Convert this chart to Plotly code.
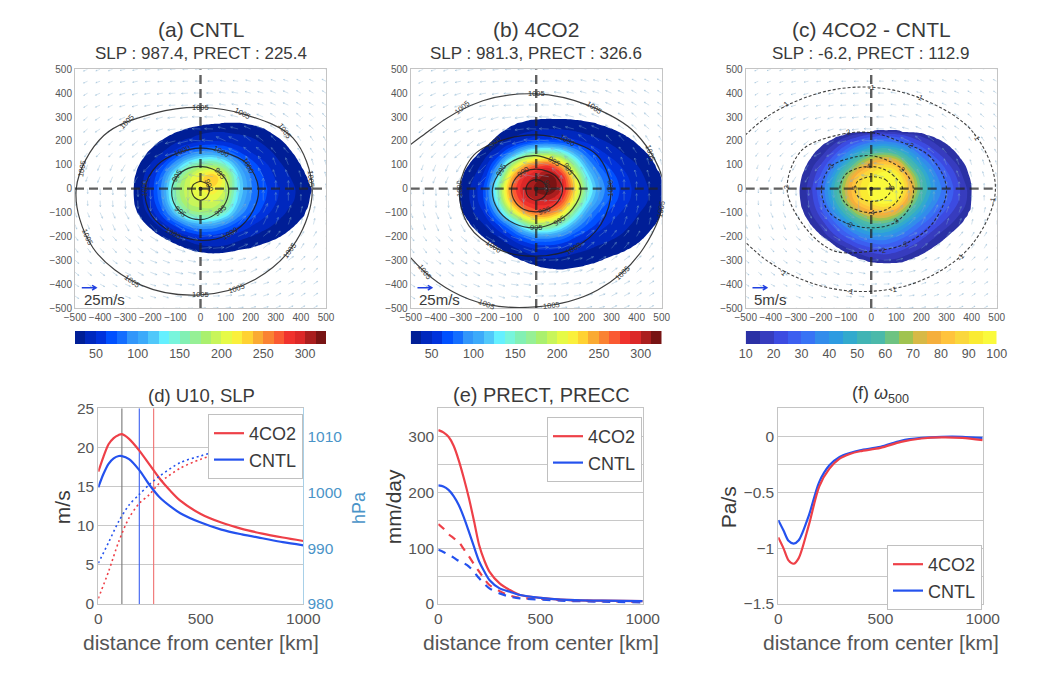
import numpy as np
import plotly.graph_objects as go

W, H = 1041, 674

# ---------- map panels: gridded precipitation (mm/day) ----------
x_grid = [-350,-300,-250,-200,-150,-100,-50,0,50,100,150,200,250,300,350,400,450,500]
y_grid = [350,300,250,200,150,100,50,0,-50,-100,-150,-200,-250,-300,-350]

precip_a = [
 [5,5,5,5,5,5,5,5,5,5,5,5,5,5,5,5,5,5],
 [5,5,5,5,5,5,8,12,14,14,12,8,5,5,5,5,5,5],
 [5,5,5,5,8,18,28,33,35,35,33,30,27,14,6,5,5,5],
 [5,5,6,14,28,33,38,44,46,45,40,35,31,28,16,8,5,5],
 [5,6,12,24,34,55,80,95,100,85,65,50,40,32,26,14,6,5],
 [5,10,26,38,62,100,145,170,175,150,100,72,55,43,33,25,12,6],
 [5,14,28,48,85,150,195,225,250,205,125,85,62,48,39,29,17,8],
 [5,17,30,52,95,165,200,212,225,200,130,90,68,53,43,34,26,10],
 [5,15,29,50,90,160,195,200,205,185,120,85,65,51,42,33,25,9],
 [5,11,28,42,70,125,172,180,180,150,100,75,57,45,35,29,18,7],
 [5,7,14,30,45,65,95,110,105,85,65,52,42,34,28,17,7,5],
 [5,5,7,12,27,35,45,55,55,50,43,38,33,28,14,6,5,5],
 [5,5,5,5,7,14,27,32,35,34,29,22,11,6,5,5,5,5],
 [5,5,5,5,5,5,6,9,10,9,7,5,5,5,5,5,5,5],
 [5,5,5,5,5,5,5,5,5,5,5,5,5,5,5,5,5,5],
]

precip_b = [
 [5,5,5,5,5,5,5,5,5,5,5,5,5,5,5,5,5,5],
 [5,5,5,5,5,5,10,22,24,24,22,12,8,5,5,5,5,5],
 [5,5,5,6,10,22,30,35,36,36,35,32,29,26,13,8,5,5],
 [5,5,8,20,30,38,48,60,62,58,50,44,38,34,29,22,9,5],
 [5,9,20,32,48,85,135,165,170,150,110,75,54,44,36,30,22,10],
 [7,16,28,44,90,180,240,270,280,240,170,105,72,57,46,38,30,18],
 [9,22,36,56,130,240,290,305,330,300,220,135,92,68,54,43,34,28],
 [11,28,42,68,165,265,300,320,330,305,240,155,102,74,57,46,37,30],
 [11,28,42,66,150,250,290,300,300,285,215,135,94,70,55,45,37,30],
 [9,26,37,52,105,190,250,270,265,235,160,100,72,57,47,39,33,28],
 [5,14,28,39,62,95,150,190,185,150,105,75,58,47,40,34,29,17],
 [5,6,14,27,38,55,78,95,95,85,65,52,43,38,33,29,24,10],
 [5,5,6,12,22,32,42,50,52,48,42,38,34,30,27,15,7,5],
 [5,5,5,5,7,14,27,32,35,34,32,29,27,14,7,5,5,5],
 [5,5,5,5,5,5,10,20,24,24,20,12,6,5,5,5,5,5],
]

precip_c = [
 [2,2,2,2,2,2,2,2,2,2,2,2,2,2,2,2,2,2],
 [2,2,2,2,2,2,3,4,4,4,4,3,2,2,2,2,2,2],
 [2,2,2,2,3,5,9,11,13,13,11,8,5,2,2,2,2,2],
 [2,2,2,6,12,20,26,32,34,31,25,19,14,8,3,2,2,2],
 [2,2,5,12,22,34,48,58,62,57,44,31,22,15,7,3,2,2],
 [2,4,11,20,33,50,68,82,88,84,60,44,32,22,14,6,2,2],
 [3,7,14,26,44,68,87,94,102,100,78,55,38,28,18,8,3,2],
 [4,9,16,30,50,74,90,98,106,106,84,58,42,31,21,12,4,2],
 [4,8,15,28,47,70,88,95,102,97,74,52,38,29,20,12,4,2],
 [2,7,13,23,37,54,70,78,82,74,56,42,31,23,16,11,3,2],
 [2,5,9,16,27,38,50,58,58,51,40,30,23,17,11,5,2,2],
 [2,2,5,11,18,26,34,39,40,35,28,22,16,10,5,2,2,2],
 [2,2,2,4,9,14,20,24,26,23,19,15,9,4,2,2,2,2],
 [2,2,2,2,3,5,9,13,15,14,11,6,3,2,2,2,2,2],
 [2,2,2,2,2,2,3,4,5,5,3,2,2,2,2,2,2,2],
]

# outer edge of the coloured area: radius (km) at each bearing
rim_bearing = [0,15,30,45,60,75,90,105,120,135,150,165,180,195,210,225,240,255,270,285,300,315,330,345,360]
rim_a = [441,410,385,358,318,282,263,257,256,258,262,266,268,272,268,258,252,256,268,281,298,335,385,430,441]
rim_b = [510,478,428,375,332,303,291,285,274,266,276,295,306,310,302,292,290,302,322,350,375,408,465,505,510]
rim_c = [400,387,360,315,272,248,237,240,252,266,273,280,285,288,284,275,277,290,305,323,335,348,370,400,400]

jet_bands = ["#001e96","#0028be","#0032dc","#0050ff","#146eff","#3296fa","#3caafa","#50c8fa",
             "#64f0ff","#78f5dc","#82f0b4","#96f096","#aaf06e","#c8f55a","#e6fa46","#faf03c",
             "#ffd232","#faaa32","#fa8232","#fa5a32","#f0322d","#dc2828","#aa1e1e","#781414"]
par_bands = ["#2b31a5","#373cbe","#3c4be1","#3c5ff0","#3773f5","#328ceb","#2d9be1","#32aacd",
             "#41b4b4","#4bb9aa","#6ec382","#a0c350","#d7b946","#f5af3c","#ffc33c","#fad73c",
             "#faeb32","#fafa3c"]

precip_start = [25, 25, 10]
precip_step = [12.5, 12.5, 5]
cbar_ticks = [[50,100,150,200,250,300], [50,100,150,200,250,300], [10,20,30,40,50,60,70,80,90,100]]

# ---------- SLP contours: radius (km) from the storm centre at each bearing ----------
bearing = [0,30,60,90,120,150,180,210,240,270,300,330,360]
slp_a = {
 "1005": [445,425,358,340,365,445,495,495,468,445,438,440,445],
 "1000": [231,212,178,170,174,198,221,225,215,217,222,228,231],
 "995":  [112,105,95,93,98,106,114,122,128,130,122,116,112],
 "990":  [36,34,30,30,30,33,35,38,44,49,44,38,36],
}
slp_b = {
 "1005": [510,460,405,397,425,490,650,578,535,495,490,495,510],
 "1000": [298,280,235,225,240,285,306,310,295,283,290,298,298],
 "995":  [178,155,135,138,145,158,174,176,170,164,160,168,178],
 "990":  [105,95,85,82,85,92,98,100,100,97,98,102,105],
 "985":  [45,40,38,38,38,39,41,44,47,49,47,46,45],
}
slp_c = {
 "-1": [495,470,428,425,455,530,640,530,460,430,435,465,495],
 "-2": [300,270,228,235,260,320,335,310,300,262,268,285,300],
 "-3": [168,150,135,138,150,185,198,195,172,164,170,172,168],
 "-4": [125,105,95,93,100,118,125,120,105,100,105,115,125],
 "-5": [80,70,55,50,52,62,65,62,55,53,58,70,80],
}
label_bearing_a = {"1005":[5,36,62,90,136,170,204,235,270,289,324], "1000":[27,62,114,180,240,302], "995":[40,150,230,311], "990":[20]}
label_bearing_b = {"1005":[18,56,90,131,218,248,277,314,350], "1000":[58,131,180,235,301,0], "995":[32,58,150,270,305], "990":[125,290], "985":[10]}
label_bearing_c = {"-1":[27,63,90,134,225,259,282,321,354], "-2":[50,112,180,280,300], "-3":[35,150,240,305], "-4":[100,270], "-5":[0,180]}

# ---------- wind field, shared direction (deg) and speed (m/s) on a 100 km mesh ----------
wind_dir = [
 [205,200,192,186,181,178,172,166,160,155,152],
 [212,205,197,190,183,178,170,163,155,148,145],
 [222,215,205,197,187,178,165,155,145,138,132],
 [235,228,220,208,195,175,155,140,130,122,118],
 [252,248,240,228,210,170,135,118,110,105,102],
 [272,272,272,272,270,0,90,90,90,90,90],
 [290,292,298,310,325,10,50,65,72,78,82],
 [305,310,318,328,340,5,25,40,52,60,65],
 [318,322,330,338,348,3,15,28,38,45,52],
 [325,330,336,342,352,2,10,20,30,35,42],
 [330,335,340,345,355,1,8,15,25,30,35],
]
wind_speed = [
 [7,7,8,8,8,8,8,8,8,7,7],
 [7,8,9,9,10,10,10,9,9,8,7],
 [8,9,10,11,12,13,12,11,10,9,8],
 [8,9,11,14,16,17,16,14,11,9,8],
 [8,10,12,16,18,18,18,16,12,10,8],
 [8,10,13,17,19,15,19,17,13,10,8],
 [8,10,12,16,18,18,18,16,12,10,8],
 [8,9,11,14,16,17,16,14,11,9,8],
 [8,9,10,11,12,13,12,11,10,9,8],
 [7,8,9,9,10,10,10,9,9,8,7],
 [7,7,8,8,8,8,8,8,8,7,7],
]
wind_gain = [1.0, 1.12, 0.85]
key_labels = ["25m/s", "25m/s", "5m/s"]

# ---------- line panels ----------
u_r_4co2 = [0,25,50,75,100,115,150,200,250,300,350,400,500,600,700,800,900,1000]
u_4co2   = [16.9,18.8,20.4,21.2,21.6,21.7,21.1,19.6,17.8,16.0,14.5,13.2,11.5,10.4,9.6,9.0,8.5,8.05]
u_r_cntl = [0,25,50,75,100,115,150,200,250,300,350,400,500,600,700,800,900,1000]
u_cntl   = [14.9,16.6,17.9,18.6,18.9,18.9,18.5,17.1,15.2,13.6,12.5,11.6,10.4,9.5,8.9,8.4,7.9,7.5]
slp_r = [0,50,100,150,200,250,300,400,500,600,700,800,900,1000]
slp_4co2 = [981,985.8,991.2,995.4,998,999.6,1001.7,1004.3,1005.9,1007.0,1007.9,1008.7,1009.4,1009.9]
slp_cntl = [987.3,991.0,994.8,997.7,999.6,1001.4,1002.9,1005.3,1006.5,1007.5,1008.3,1009.0,1009.7,1010.3]
rmw_lines = [115, 200, 270]

e_r = [0,25,50,75,100,125,150,175,200,225,250,300,350,400,500,600,800,1000]
prect_4co2 = [311,307,299,283,257,225,189,148,105,78,58,37,25,16,11,8,6,5]
prect_cntl = [212,210,204,193,177,155,129,102,76,58,43,28,22,16,11,8,6,5]
precc_4co2 = [143,135,125,118,111,98,85,71,58,45,34,23,15,11,9,7,5,4]
precc_cntl = [97,93,88,83,77,73,67,57,46,36,28,19,13,10,8,6,4,3]

f_r = [0,25,50,75,100,150,200,250,300,350,400,500,600,700,800,900,1000]
omega_4co2 = [-0.905,-1.0,-1.11,-1.14,-1.09,-0.79,-0.45,-0.29,-0.2,-0.158,-0.134,-0.104,-0.05,-0.02,-0.01,-0.015,-0.035]
omega_cntl = [-0.75,-0.84,-0.935,-0.96,-0.93,-0.705,-0.41,-0.26,-0.185,-0.15,-0.125,-0.095,-0.04,-0.015,-0.005,-0.005,-0.015]

map_titles = ["(a) CNTL", "(b) 4CO2", "(c) 4CO2 - CNTL"]
map_subtitles = ["SLP : 987.4, PRECT : 225.4", "SLP : 981.3, PRECT : 326.6", "SLP : -6.2, PRECT : 112.9"]
map_ticks = [-500,-400,-300,-200,-100,0,100,200,300,400,500]

# ---------- pixel geometry ----------
map_left = [75, 410.7, 745.7]
map_width = 251
map_top, map_bottom = 69.3, 308
cb_top, cb_bottom = 331, 344
low_left = [98.3, 438.3, 778.3]
low_width = [205, 204.4, 204.4]
low_top, low_bottom = 408.3, 604

RED, BLUE = "#ee4048", "#2452ee"
TXT = "#3a3a3a"
TICK = "#555555"
FONT = "Liberation Sans, Arial, sans-serif"

def xdom(a, b): return [a / W, b / W]
def ydom(top, bottom): return [1 - bottom / H, 1 - top / H]

def soften(vals, axis):
    """Light smoothing of the gridded read-off so band edges are not polygonal."""
    k = np.array([1, 4, 6, 4, 1]) / 16.0
    pad = [(0, 0), (0, 0)]; pad[axis] = (2, 2)
    padded = np.pad(vals, pad, mode="edge")
    return np.apply_along_axis(lambda v: np.convolve(v, k, mode="valid"), axis, padded)

def refine(table, xs, ys, rim, start, f=4):
    z = np.array(table, dtype=float)
    ix = np.linspace(0, len(xs) - 1, (len(xs) - 1) * f + 1)
    iy = np.linspace(0, len(ys) - 1, (len(ys) - 1) * f + 1)
    z = np.array([np.interp(ix, np.arange(len(xs)), row) for row in z])
    z = np.array([np.interp(iy, np.arange(len(ys)), col) for col in z.T]).T
    z = soften(soften(z, 0), 1)
    xf = np.interp(ix, np.arange(len(xs)), xs); yf = np.interp(iy, np.arange(len(ys)), ys)
    X, Y = np.meshgrid(xf, yf)
    rho = np.hypot(X, Y) / np.interp(np.degrees(np.arctan2(Y, X)) % 360, rim_bearing, rim)
    inner = np.clip(z, start * (1 + (1 - rho) * 3), start + (1 - rho) * 400)
    return xf, yf, np.where(rho <= 1, inner, start - (rho - 1) * start * 6)

fig = go.Figure()
layout = dict(width=W, height=H, autosize=False, margin=dict(l=0, r=0, t=0, b=0, pad=0),
              paper_bgcolor="white", plot_bgcolor="white", font=dict(family=FONT, color=TXT))
ann = []

def text(x, y, s, size, color=TXT, **kw):
    ann.append(dict(x=x / W, y=1 - y / H, xref="paper", yref="paper", text=s, showarrow=False,
                    font=dict(size=size, color=color, family=FONT), xanchor="center", yanchor="middle", **kw))

precips = [precip_a, precip_b, precip_c]
rims = [rim_a, rim_b, rim_c]
slps = [slp_a, slp_b, slp_c]
lab_b = [label_bearing_a, label_bearing_b, label_bearing_c]
band_sets = [jet_bands, jet_bands, par_bands]

for p in range(3):
    n = 2 * p + 1
    xm, ym = f"x{n}" if n > 1 else "x", f"y{n}" if n > 1 else "y"
    xc, yc = f"x{n+1}", f"y{n+1}"
    ax_common = dict(showgrid=False, zeroline=False, showline=True, mirror=True, linecolor="#c4c4c4", linewidth=1,
                     ticks="", tickfont=dict(size=10, color=TICK, family=FONT), tickvals=map_ticks, range=[-500, 500],
                     tickangle=0, automargin=False)
    layout[f"xaxis{n}"] = dict(domain=xdom(map_left[p], map_left[p] + map_width), anchor=ym, **ax_common)
    layout[f"yaxis{n}"] = dict(domain=ydom(map_top, map_bottom), anchor=xm, **ax_common)

    # wind arrows
    ax_pts, ay_pts = [], []
    gain = wind_gain[p]
    for yv in np.arange(500, -501, -50):
        for xv in np.arange(-500, 501, 50):
            j = int(round((xv + 500) / 100 - 0.01)); i = int(round((500 - yv) / 100 - 0.01))
            ang = np.radians(wind_dir[i][j]); L = wind_speed[i][j] * 2.6 * gain
            ex, ey = xv + L * np.cos(ang), yv + L * np.sin(ang)
            ax_pts += [xv, ex, None]; ay_pts += [yv, ey, None]
            for d in (2.7, -2.7):
                ax_pts += [ex, ex + 0.3 * L * np.cos(ang + d), None]
                ay_pts += [ey, ey + 0.3 * L * np.sin(ang + d), None]
    fig.add_trace(go.Scatter(x=ax_pts, y=ay_pts, mode="lines", xaxis=xm, yaxis=ym, showlegend=False, hoverinfo="skip",
                             line=dict(color="rgba(130,175,205,0.45)", width=0.8)))

    # filled precipitation
    bands = band_sets[p]
    start, step = precip_start[p], precip_step[p]
    end = start + step * len(bands)
    cols = ["rgba(255,255,255,0)"] + bands + [bands[-1]]
    scale = [[i / (len(cols) - 1), c] for i, c in enumerate(cols)]
    xf, yf, zf = refine(precips[p], x_grid, y_grid, rims[p], start)
    fig.add_trace(go.Contour(x=xf, y=yf, z=zf, xaxis=xm, yaxis=ym, showscale=False, colorscale=scale,
                             autocontour=False, contours=dict(start=start, end=end, size=step, coloring="fill", showlines=False),
                             line=dict(width=0, smoothing=1.0), hoverinfo="skip"))

    # colour bar
    mids = [start + step * (i + 0.5) for i in range(len(bands))]
    cb_scale = [[i / (len(bands) - 1), c] for i, c in enumerate(bands)]
    fig.add_trace(go.Heatmap(x=mids, y=[0], z=[mids], xaxis=xc, yaxis=yc, showscale=False, colorscale=cb_scale,
                             zmin=mids[0], zmax=mids[-1], hoverinfo="skip"))
    layout[f"xaxis{n+1}"] = dict(domain=xdom(map_left[p], map_left[p] + map_width), anchor=yc, range=[start, end],
                                 tickvals=cbar_ticks[p], showgrid=False, zeroline=False, ticks="", showline=False,
                                 automargin=False, tickangle=0, tickfont=dict(size=12.5, color=TICK, family=FONT))
    layout[f"yaxis{n+1}"] = dict(domain=ydom(cb_top, cb_bottom), anchor=xc, visible=False, range=[-0.5, 0.5], automargin=False)

    # crosshair
    for hx, hy in (([-500, 500], [0, 0]), ([0, 0], [-500, 500])):
        fig.add_trace(go.Scatter(x=hx, y=hy, mode="lines", xaxis=xm, yaxis=ym, showlegend=False, hoverinfo="skip",
                                 line=dict(color="rgba(35,35,35,0.72)", width=2.4, dash="9px,5px")))

    # SLP contours
    for lev, rad in slps[p].items():
        th = np.radians(bearing)
        xs = np.array(rad) * np.cos(th); ys = np.array(rad) * np.sin(th)
        fig.add_trace(go.Scatter(x=xs, y=ys, mode="lines", xaxis=xm, yaxis=ym, showlegend=False, hoverinfo="skip",
                                 line=dict(color="rgba(30,30,30,0.85)", width=1.2 if p < 2 else 1.1,
                                           shape="spline", smoothing=1.0, dash="solid" if p < 2 else "3px,2px")))
        for b in lab_b[p][lev]:
            r = np.interp(b, bearing, rad)
            rot = -(b + 90)
            while rot < -90: rot += 180
            while rot > 90: rot -= 180
            ann.append(dict(x=r * np.cos(np.radians(b)), y=r * np.sin(np.radians(b)), xref=xm, yref=ym, text=lev,
                            showarrow=False, textangle=rot, font=dict(size=7.5, color="#333333", family=FONT)))
    fig.add_trace(go.Scatter(x=[0], y=[0], mode="markers", xaxis=xm, yaxis=ym, showlegend=False, hoverinfo="skip",
                             marker=dict(color="#222222", size=4)))

    # quiver key
    fig.add_trace(go.Scatter(x=[-473, -416, -432, -416, -432], y=[-415, -415, -405, -415, -425], mode="lines",
                             xaxis=xm, yaxis=ym, showlegend=False, hoverinfo="skip",
                             line=dict(color="#2040e0", width=1.5)))
    ann.append(dict(x=-473, y=-465, xref=xm, yref=ym, text=key_labels[p], showarrow=False, xanchor="left",
                    font=dict(size=15, color=TXT, family=FONT)))

    cx = map_left[p] + map_width / 2
    text(cx, 30, map_titles[p], 21)
    text(cx, 53, map_subtitles[p], 17)

# ---------- lower panels ----------
low_x = dict(range=[0, 1000], tickvals=[0, 500, 1000], showgrid=False, zeroline=False, showline=True, mirror=True,
             linecolor="#c4c4c4", ticks="", automargin=False, tickfont=dict(size=15.5, color=TICK, family=FONT))
grid = dict(showgrid=True, gridcolor="#c8c8c8", gridwidth=1.4, zeroline=False, showline=True, mirror=True, automargin=False,
            linecolor="#c4c4c4", ticks="", tickfont=dict(size=15.5, color=TICK, family=FONT))
ytitle_x = [62, 393, 728]

def low_axes(i, n, ytitle, yrange, ytick, minor=None):
    xm, ym = f"x{n}", f"y{n}"
    layout[f"xaxis{n}"] = dict(domain=xdom(low_left[i], low_left[i] + low_width[i]), anchor=ym, **low_x)
    ya = dict(domain=ydom(low_top, low_bottom), anchor=xm, range=yrange, tickvals=ytick, **grid)
    if minor:
        ya["minor"] = dict(tickvals=minor, showgrid=True, gridcolor="#c8c8c8", gridwidth=1.4, ticks="")
    layout[f"yaxis{n}"] = ya
    text(ytitle_x[i], (low_top + low_bottom) / 2 + 1, ytitle, 21, textangle=-90)
    text(low_left[i] + low_width[i] / 2, 642, "distance from center [km]", 21, color=TICK)
    return xm, ym

def solid(x, y, xa, ya, color, name, legend, show=True, dash="solid", width=2.2, rank=1000):
    fig.add_trace(go.Scatter(x=x, y=y, xaxis=xa, yaxis=ya, mode="lines", name=name, legend=legend, showlegend=show, legendrank=rank,
                             line=dict(color=color, width=width, dash=dash, shape="spline", smoothing=0.8), hoverinfo="skip"))

# (d)
xa, ya = low_axes(0, 7, "m/s", [0, 25], [0, 5, 10, 15, 20, 25])
layout["yaxis10"] = dict(domain=ydom(low_top, low_bottom), anchor=xa, overlaying="y7", side="right", range=[980, 1015],
                         tickvals=[980, 990, 1000, 1010], showgrid=False, zeroline=False, showline=True, linecolor="#a8d0e8",
                         ticks="", automargin=False, tickfont=dict(size=15.5, color="#4a94c8", family=FONT))
text(359, 508, "hPa", 18, color="#4a94c8", textangle=-90)
for rx, col in zip(rmw_lines, ["#777777", "#3a5ff0", "#f07070"]):
    fig.add_trace(go.Scatter(x=[rx, rx], y=[0, 25], xaxis=xa, yaxis=ya, mode="lines", showlegend=False, hoverinfo="skip",
                             line=dict(color=col, width=1.1)))
solid(slp_r, slp_4co2, xa, "y10", RED, "4CO2", "legend", False, "2px,3px", 1.6)
solid(slp_r, slp_cntl, xa, "y10", BLUE, "CNTL", "legend", False, "2px,3px", 1.6)
solid(u_r_4co2, u_4co2, xa, ya, RED, "4CO2", "legend")
solid(u_r_cntl, u_cntl, xa, ya, BLUE, "CNTL", "legend")
text(201, 395, "(d) U10, SLP", 18.5)

# (e)
xa, ya = low_axes(1, 8, "mm/day", [0, 350], [0, 100, 200, 300], [50, 150, 250])
solid(e_r, precc_4co2, xa, ya, RED, "4CO2", "legend2", False, "8px,7px")
solid(e_r, precc_cntl, xa, ya, BLUE, "CNTL", "legend2", False, "8px,7px")
solid(e_r, prect_4co2, xa, ya, RED, "4CO2", "legend2")
solid(e_r, prect_cntl, xa, ya, BLUE, "CNTL", "legend2")
text(541, 395, "(e) PRECT, PRECC", 20)

# (f)
xa, ya = low_axes(2, 9, "Pa/s", [-1.5, 0.25], [-1.5, -1, -0.5, 0], [-1.25, -0.75, -0.25])
solid(f_r, omega_cntl, xa, ya, BLUE, "CNTL", "legend3", True, rank=2)
solid(f_r, omega_4co2, xa, ya, RED, "4CO2", "legend3", True, rank=1)
text(880, 394, "(f) <i>ω</i><sub>500</sub>", 18)

def legend_at(left, top):
    return dict(x=left / W, y=1 - top / H, xanchor="left", yanchor="top", bgcolor="white", bordercolor="#c0c0c0", borderwidth=1,
                font=dict(size=18, color=TXT, family=FONT), tracegroupgap=0, itemwidth=30, traceorder="normal")

layout["legend"] = legend_at(208, 414)
layout["legend2"] = legend_at(547, 417)
layout["legend3"] = legend_at(887, 545)
layout["annotations"] = ann
fig.update_layout(**layout)
fig.write_html("out.html", config={"displayModeBar": False},
               post_script="document.body.style.margin='0';document.body.style.overflow='hidden';")
